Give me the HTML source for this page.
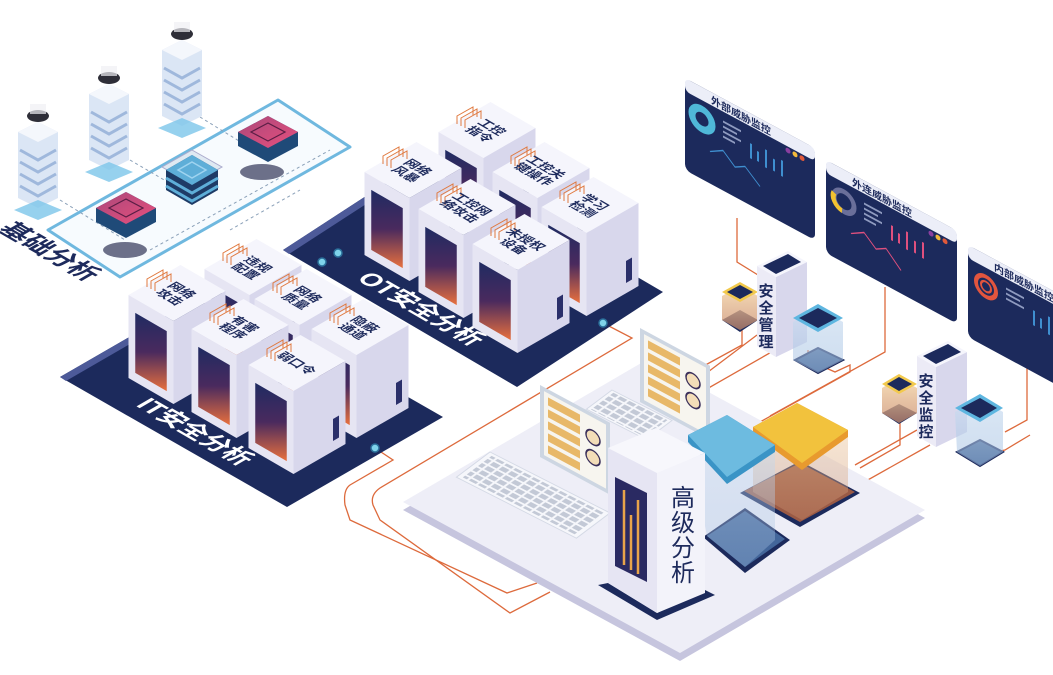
<!DOCTYPE html>
<html><head><meta charset="utf-8"><style>
html,body{margin:0;padding:0;background:#fff;}
svg{display:block;}
text{font-family:"Liberation Sans","Noto Sans CJK SC",sans-serif;}
</style></head><body>
<svg width="1053" height="675" viewBox="0 0 1053 675" xmlns="http://www.w3.org/2000/svg">
<defs>
 <linearGradient id="scr" x1="0" y1="0" x2="0" y2="1">
  <stop offset="0" stop-color="#1f2b62"/><stop offset="0.5" stop-color="#4a2a5e"/><stop offset="1" stop-color="#e8703e"/>
 </linearGradient>
 <linearGradient id="pink" x1="0" y1="0" x2="1" y2="1">
  <stop offset="0" stop-color="#a9477a"/><stop offset="1" stop-color="#e8507e"/>
 </linearGradient>
 <linearGradient id="glassB" x1="0" y1="0" x2="0" y2="1">
  <stop offset="0" stop-color="#cfe0f2" stop-opacity=".9"/><stop offset="1" stop-color="#9fbde0" stop-opacity=".6"/>
 </linearGradient>
 <linearGradient id="glassY" x1="0" y1="0" x2="0" y2="1">
  <stop offset="0" stop-color="#f7dcb0" stop-opacity=".9"/><stop offset="1" stop-color="#c98a6a" stop-opacity=".7"/>
 </linearGradient>
 <pattern id="keys" width="9" height="7" patternUnits="userSpaceOnUse">
  <rect x="1" y="1" width="7" height="5" fill="#c3c9d6"/>
 </pattern>
 <g id="cab">
  <polygon points="3.5,-28 48.5,-2 -3.5,28 -48.5,2" fill="#f5f5fc"/>
  <polygon points="-48.5,2 -3.5,28 -3.5,111 -48.5,85" fill="#e6e5f3"/>
  <polygon points="-3.5,28 48.5,-2 48.5,81 -3.5,111" fill="#d8d7ec"/>
  <polygon points="-41.75,19.9 -10.25,38.1 -10.25,98.1 -41.75,79.9" fill="url(#scr)"/>
  <polygon points="36,56 42,52.5 42,74.5 36,78" fill="#2a2f6a"/>
  <g stroke="#e0793f" stroke-width="1" fill="none">
   <path d="M-30,-6 l0,-8 l16,-9 l0,8 M-26,-4 l0,-8 l16,-9 l0,8 M-22,-2 l0,-8 l16,-9 l0,8"/>
  </g>
 </g>
 <g id="tower">
  <ellipse cx="0" cy="-4" rx="11" ry="6" fill="#2e2e38"/>
  <rect x="-8" y="-16" width="16" height="10" fill="#f0f0f4" opacity=".7"/>
  <polygon points="0,2 -20,12 -20,78 0,88 20,78 20,12" fill="#dbe6f5"/>
  <polygon points="0,2 20,12 0,22 -20,12" fill="#f4f7fc"/>
  <g stroke="#9fb8dc" stroke-width="3" fill="none">
   <path d="M-18,30 L0,40 L18,30 M-18,42 L0,52 L18,42 M-18,54 L0,64 L18,54 M-18,66 L0,76 L18,66"/>
  </g>
  <polygon points="0,80 -24,90 0,100 24,90" fill="#7cc6ea" opacity=".8"/>
 </g>
</defs>

<!-- foundation -->
<polygon points="48,230 120,277 350,147 278,100" fill="#f7fbfe" stroke="#6fb8df" stroke-width="3" stroke-linejoin="round"/>
<g stroke="#8aa0b8" stroke-width="1" stroke-dasharray="3,3" fill="none">
 <path d="M60,200 L125,240 M130,160 L190,195 M200,117 L270,160 M230,230 L300,190 M150,250 L330,150"/>
</g>
<ellipse cx="125" cy="250" rx="22" ry="8" fill="#6c7089"/>
<ellipse cx="262" cy="172" rx="22" ry="8" fill="#6c7089"/>
<use href="#tower" x="38" y="120"/>
<use href="#tower" x="109" y="82"/>
<use href="#tower" x="182" y="38"/>
<!-- center chip -->
<polygon points="192,150 222,167 192,184 162,167" fill="#dfe9f2" stroke="#aac" stroke-width="1"/>
<g>
 <polygon points="192,155 218,170 218,190 192,205 166,190 166,170" fill="#1e3b66"/>
 <polygon points="192,155 218,170 192,185 166,170" fill="#5eaed8"/>
 <polygon points="192,162 206,170 192,178 178,170" fill="none" stroke="#9fd4f0" stroke-width="1.5"/>
 <path d="M166,178 L192,193 L218,178 M166,186 L192,201 L218,186" stroke="#5eaed8" stroke-width="3" fill="none"/>
</g>
<!-- pink chips -->
<g>
 <polygon points="126,192 156,208 156,222 126,238 96,222 96,208" fill="#1f4a78"/>
 <polygon points="126,192 156,208 126,224 96,208" fill="url(#pink)"/>
 <polygon points="126,199 143,208 126,217 109,208" fill="none" stroke="#5a1e45" stroke-width="1.2"/>
</g>
<g>
 <polygon points="268,116 298,132 298,146 268,162 238,146 238,132" fill="#1f4a78"/>
 <polygon points="268,116 298,132 268,148 238,132" fill="url(#pink)"/>
 <polygon points="268,123 285,132 268,141 251,132" fill="none" stroke="#5a1e45" stroke-width="1.2"/>
</g>
<text transform="matrix(0.866,0.5,-0.866,0.5,42,256)" text-anchor="middle" font-size="26" font-weight="bold" fill="#1d2a5c">基础分析</text>

<!-- orange lines -->
<g stroke="#dd6a3c" stroke-width="1.3" fill="none">
 <path d="M375,448 L393,460 L350,485 Q343,490 345,505 L350,520 L507,593 L537,583"/>
 <path d="M603,323 L632,338 L380,488 Q370,495 373,505 L380,520 L510,613 L550,592"/>
 <path d="M737,218 L737,262 L758,275"/>
 <path d="M885,287 L885,352 L770,416"/>
 <path d="M1027,340 L1027,420 L1005,432"/>
 <path d="M742,330 L742,345 L700,368 M757,335 L700,378 M775,350 L705,390 M808,350 L808,360 L835,372 L850,365 L850,372 L760,422"/>
 <path d="M900,420 L900,445 L860,468 M917,430 L855,465 M930,445 L850,490 M975,445 L980,455 L1005,450 L1030,435"/>
</g>

<!-- IT platform -->
<polygon points="60,377 216,287 443,417 287,507" fill="#1c2a5c"/>
<polygon points="60,377 216,287 220,292 66,381" fill="#4d5a99"/>
<!-- OT platform -->
<polygon points="283,250 429,155 663,292 517,387" fill="#1c2a5c"/>
<polygon points="283,250 429,155 434,160 289,254" fill="#4d5a99"/>
<text transform="matrix(0.866,0.5,-0.866,0.5,188,436)" text-anchor="middle" font-size="25" font-weight="bold" fill="#ffffff">IT安全分析</text>
<text transform="matrix(0.866,0.5,-0.866,0.5,414,313)" text-anchor="middle" font-size="25" font-weight="bold" fill="#ffffff">OT安全分析</text>
<g fill="#7fd3ea" stroke="#2b6f9a" stroke-width="1.5">
 <circle cx="375" cy="448" r="4"/><circle cx="603" cy="323" r="4"/><circle cx="322" cy="262" r="4"/><circle cx="338" cy="253" r="4"/>
</g>

<!-- OT cabinets -->
<use href="#cab" x="487" y="130"/>
<use href="#cab" x="413" y="170"/>
<use href="#cab" x="541" y="170"/>
<use href="#cab" x="467" y="207"/>
<use href="#cab" x="590" y="205"/>
<use href="#cab" x="521" y="242"/>
<g font-size="13" font-weight="bold" fill="#1d2a5c" text-anchor="middle">
 <text transform="matrix(0.866,0.5,-0.866,0.5,487,130)"><tspan x="0" y="-1">工控</tspan><tspan x="0" y="13">指令</tspan></text>
 <text transform="matrix(0.866,0.5,-0.866,0.5,413,170)"><tspan x="0" y="-1">网络</tspan><tspan x="0" y="13">风暴</tspan></text>
 <text transform="matrix(0.866,0.5,-0.866,0.5,541,170)"><tspan x="0" y="-1">工控关</tspan><tspan x="0" y="13">键操作</tspan></text>
 <text transform="matrix(0.866,0.5,-0.866,0.5,467,207)"><tspan x="0" y="-1">工控网</tspan><tspan x="0" y="13">络攻击</tspan></text>
 <text transform="matrix(0.866,0.5,-0.866,0.5,590,205)"><tspan x="0" y="-1">学习</tspan><tspan x="0" y="13">检测</tspan></text>
 <text transform="matrix(0.866,0.5,-0.866,0.5,521,242)"><tspan x="0" y="-1">未授权</tspan><tspan x="0" y="13">设备</tspan></text>
</g>

<!-- IT cabinets -->
<use href="#cab" x="253" y="267"/>
<use href="#cab" x="177" y="293"/>
<use href="#cab" x="303" y="297"/>
<use href="#cab" x="240" y="327"/>
<use href="#cab" x="360" y="327"/>
<use href="#cab" x="297" y="363"/>
<g font-size="13" font-weight="bold" fill="#1d2a5c" text-anchor="middle">
 <text transform="matrix(0.866,0.5,-0.866,0.5,253,267)"><tspan x="0" y="-1">违规</tspan><tspan x="0" y="13">配置</tspan></text>
 <text transform="matrix(0.866,0.5,-0.866,0.5,177,293)"><tspan x="0" y="-1">网络</tspan><tspan x="0" y="13">攻击</tspan></text>
 <text transform="matrix(0.866,0.5,-0.866,0.5,303,297)"><tspan x="0" y="-1">网络</tspan><tspan x="0" y="13">质量</tspan></text>
 <text transform="matrix(0.866,0.5,-0.866,0.5,240,327)"><tspan x="0" y="-1">有害</tspan><tspan x="0" y="13">程序</tspan></text>
 <text transform="matrix(0.866,0.5,-0.866,0.5,360,327)"><tspan x="0" y="-1">隐蔽</tspan><tspan x="0" y="13">通道</tspan></text>
 <text transform="matrix(0.866,0.5,-0.866,0.5,297,363)"><tspan x="0" y="5">弱口令</tspan></text>
</g>

<!-- dashboards -->
<g transform="matrix(1,0.54,0,1,685,78)">
 <rect x="0" y="0" width="130" height="92" rx="6" fill="#1c2a5c"/>
 <rect x="0" y="0" width="130" height="13" rx="5" fill="#eceef8"/>
 <text x="26" y="11" font-size="10" font-weight="bold" fill="#1d2a5c">外部威胁监控</text>
 <circle cx="17" cy="32" r="10" fill="none" stroke="#4fb8d8" stroke-width="7"/>
 <circle cx="103" cy="17" r="2.5" fill="#8a3fa0"/><circle cx="110" cy="17" r="2.5" fill="#f2b93b"/><circle cx="117" cy="17" r="2.5" fill="#e0593a"/>
 <g fill="#3f8fd0"><rect x="65" y="30" width="2" height="15"/><rect x="72" y="34" width="2" height="10"/><rect x="80" y="28" width="2" height="18"/><rect x="88" y="33" width="2" height="12"/><rect x="96" y="30" width="2" height="16"/></g>
 <g fill="#8f9bc0"><rect x="38" y="22" width="18" height="2"/><rect x="38" y="27" width="14" height="2"/><rect x="38" y="32" width="18" height="2"/><rect x="38" y="37" width="12" height="2"/></g>
 <polyline points="25,60 38,52 50,62 60,56 75,68" fill="none" stroke="#3f8fd0" stroke-width="1.2"/>
</g>
<g transform="matrix(1,0.54,0,1,826,160)">
 <rect x="0" y="0" width="131" height="93" rx="6" fill="#1c2a5c"/>
 <rect x="0" y="0" width="131" height="13" rx="5" fill="#eceef8"/>
 <text x="26" y="11" font-size="10" font-weight="bold" fill="#1d2a5c">外连威胁监控</text>
 <circle cx="18" cy="32" r="10" fill="none" stroke="#6a6f9a" stroke-width="5"/>
 <path d="M8,28 A10,10 0 0 0 16,42" fill="none" stroke="#f2c230" stroke-width="5"/>
 <circle cx="105" cy="17" r="2.5" fill="#8a3fa0"/><circle cx="112" cy="17" r="2.5" fill="#f2b93b"/><circle cx="119" cy="17" r="2.5" fill="#e0593a"/>
 <g fill="#e0507e"><rect x="65" y="30" width="2" height="15"/><rect x="72" y="34" width="2" height="10"/><rect x="80" y="28" width="2" height="18"/><rect x="88" y="33" width="2" height="12"/><rect x="96" y="30" width="2" height="16"/></g>
 <g fill="#8f9bc0"><rect x="38" y="22" width="18" height="2"/><rect x="38" y="27" width="14" height="2"/><rect x="38" y="32" width="18" height="2"/><rect x="38" y="37" width="12" height="2"/></g>
 <polyline points="25,60 38,52 50,62 60,56 75,70" fill="none" stroke="#e0507e" stroke-width="1.2"/>
</g>
<g transform="matrix(1,0.54,0,1,968,245)">
 <rect x="0" y="0" width="131" height="92" rx="6" fill="#1c2a5c"/>
 <rect x="0" y="0" width="131" height="13" rx="5" fill="#eceef8"/>
 <text x="26" y="11" font-size="10" font-weight="bold" fill="#1d2a5c">内部威胁监控</text>
 <circle cx="18" cy="32" r="10" fill="none" stroke="#e2553e" stroke-width="4"/>
 <circle cx="18" cy="32" r="5" fill="none" stroke="#e2553e" stroke-width="2"/>
 <g fill="#3f8fd0"><rect x="65" y="30" width="2" height="15"/><rect x="72" y="34" width="2" height="10"/><rect x="80" y="28" width="2" height="18"/></g>
 <g fill="#8f9bc0"><rect x="38" y="22" width="18" height="2"/><rect x="38" y="27" width="14" height="2"/><rect x="38" y="32" width="18" height="2"/></g>
</g>

<!-- small glass cubes + security cabinets -->
<g>
 <polygon points="722,320 740,310 758,320 740,332" fill="#1c2a5c"/>
 <polygon points="722,296 740,286 758,296 758,320 740,330 722,320" fill="url(#glassY)"/>
 <polygon points="722,292 740,282 758,292 740,302" fill="#f2c94c"/>
 <polygon points="727,292 740,285 753,292 740,299" fill="#1c2a5c"/>
</g>
<g>
 <polygon points="757,266 776,277 776,357 757,346" fill="#ecebf6"/>
 <polygon points="776,277 807,262 807,342 776,357" fill="#d8d7ec"/>
 <polygon points="757,266 788,251 807,262 776,277" fill="#f5f5fc"/>
 <polygon points="763,266 788,254 801,262 776,274" fill="#1c2a5c"/>
 <text x="766" y="300" font-size="15" font-weight="bold" fill="#1d2a5c" text-anchor="middle"><tspan x="766" y="296">安</tspan><tspan x="766" y="313">全</tspan><tspan x="766" y="330">管</tspan><tspan x="766" y="347">理</tspan></text>
</g>
<g>
 <polygon points="795,360 818,348 843,360 818,373" fill="#3f5f8f" stroke="#1c2a5c" stroke-width="2"/>
 <polygon points="793,322 818,308 843,322 843,360 818,373 793,360" fill="url(#glassB)" opacity=".8"/>
 <polygon points="793,318 818,304 843,318 818,332" fill="#5eb6e0"/>
 <polygon points="799,318 818,308 837,318 818,328" fill="#1c2a5c"/>
</g>
<g>
 <polygon points="882,413 899,404 917,413 899,424" fill="#1c2a5c"/>
 <polygon points="882,388 899,378 917,388 917,413 899,423 882,413" fill="url(#glassY)"/>
 <polygon points="882,384 899,374 917,384 899,394" fill="#f2c94c"/>
 <polygon points="887,384 899,377 912,384 899,391" fill="#1c2a5c"/>
</g>
<g>
 <polygon points="917,356 936,367 936,447 917,436" fill="#ecebf6"/>
 <polygon points="936,367 967,352 967,432 936,447" fill="#d8d7ec"/>
 <polygon points="917,356 948,341 967,352 936,367" fill="#f5f5fc"/>
 <polygon points="923,356 948,344 961,352 936,364" fill="#1c2a5c"/>
 <text font-size="15" font-weight="bold" fill="#1d2a5c" text-anchor="middle"><tspan x="926" y="386">安</tspan><tspan x="926" y="403">全</tspan><tspan x="926" y="420">监</tspan><tspan x="926" y="437">控</tspan></text>
</g>
<g>
 <polygon points="957,452 980,440 1003,452 980,466" fill="#3f5f8f" stroke="#1c2a5c" stroke-width="2"/>
 <polygon points="955,412 980,398 1003,412 1003,452 980,466 957,452" fill="url(#glassB)" opacity=".8"/>
 <polygon points="955,408 980,394 1003,408 980,422" fill="#5eb6e0"/>
 <polygon points="961,408 980,398 997,408 980,418" fill="#1c2a5c"/>
</g>

<!-- big platform -->
<polygon points="403,510 648,367 925,518 680,661" fill="#c6c5de"/>
<polygon points="403,502 648,359 925,510 680,653" fill="#eeeef7"/>
<!-- keyboard back -->
<g transform="matrix(1,0.508,-0.8,0.6,612,390)">
 <rect x="0" y="0" width="60" height="32" fill="#f6f7fb" stroke="#d4d9e5"/>
 <rect x="3" y="2" width="54" height="28" fill="url(#keys)"/>
</g>
<!-- monitor 2 -->
<g transform="matrix(1,0.54,0,1,640,328)">
 <rect x="0" y="0" width="70" height="74" fill="#cdd6e2"/>
 <rect x="4" y="4" width="62" height="66" fill="#f7f5ef"/>
 <g fill="#e8b868"><rect x="8" y="8" width="32" height="8"/><rect x="8" y="20" width="32" height="8"/><rect x="8" y="32" width="32" height="8"/><rect x="8" y="44" width="32" height="8"/><rect x="8" y="56" width="32" height="8"/></g>
 <circle cx="53" cy="24" r="7" fill="#f3ddb8" stroke="#3a2f5a" stroke-width="1.5"/>
 <circle cx="53" cy="44" r="7" fill="#f3ddb8" stroke="#3a2f5a" stroke-width="1.5"/>
</g>
<!-- keyboard front -->
<g transform="matrix(1,0.508,-0.8,0.6,490,452)">
 <rect x="0" y="0" width="120" height="42" fill="#f6f7fb" stroke="#d4d9e5"/>
 <rect x="4" y="3" width="112" height="36" fill="url(#keys)"/>
</g>
<!-- monitor 1 -->
<g transform="matrix(1,0.54,0,1,540,385)">
 <rect x="0" y="0" width="70" height="72" fill="#cdd6e2"/>
 <rect x="4" y="4" width="62" height="64" fill="#f7f5ef"/>
 <g fill="#e8b868"><rect x="8" y="8" width="32" height="8"/><rect x="8" y="20" width="32" height="8"/><rect x="8" y="32" width="32" height="8"/><rect x="8" y="44" width="32" height="8"/><rect x="8" y="56" width="32" height="8"/></g>
 <circle cx="53" cy="24" r="7" fill="#f3ddb8" stroke="#3a2f5a" stroke-width="1.5"/>
 <circle cx="53" cy="44" r="7" fill="#f3ddb8" stroke="#3a2f5a" stroke-width="1.5"/>
</g>
<!-- yellow tile stack -->
<polygon points="740,493 800,461 860,493 800,527" fill="#1c2a5c"/>
<polygon points="744,491 800,463 855,492 800,522" fill="#9a5a45"/>
<polygon points="753,433 797,409 848,436 848,492 802,520 753,492" fill="url(#glassY)" opacity=".55"/>
<polygon points="753,427 797,403 848,430 848,437 802,470 753,434" fill="#e89a2e"/>
<polygon points="753,427 797,403 848,430 802,463" fill="#f2c23d"/>
<!-- blue tile stack -->
<polygon points="703,537 745,508 790,540 745,573" fill="#1c2a5c"/>
<polygon points="707,536 745,511 785,539 745,567" fill="#43669a"/>
<polygon points="688,441 727,421 775,451 775,540 745,567 707,536" fill="url(#glassB)" opacity=".55"/>
<polygon points="688,435 727,415 775,445 775,452 727,484 688,442" fill="#3a94c6"/>
<polygon points="688,435 727,415 775,445 727,477" fill="#6dbbe0"/>
<!-- 高级分析 cabinet -->
<polygon points="598,585 657,620 715,595 705,590 657,613 608,583" fill="#1c2a5c"/>
<polygon points="608,448 657,473 657,613 608,583" fill="#e6e5f3"/>
<polygon points="657,473 705,453 705,593 657,613" fill="#f3f3fa"/>
<polygon points="608,448 656,428 705,453 657,473" fill="#f7f7fc"/>
<polygon points="615,477 647,493 647,582 615,566" fill="#2a2a62"/>
<g stroke="#e8a44a" stroke-width="2.5"><line x1="624" y1="490" x2="624" y2="565"/><line x1="631" y1="515" x2="631" y2="570"/><line x1="638" y1="500" x2="638" y2="574"/></g>
<text font-size="24" fill="#1d2a5c" text-anchor="middle"><tspan x="683" y="506">高</tspan><tspan x="683" y="531">级</tspan><tspan x="683" y="556">分</tspan><tspan x="683" y="581">析</tspan></text>
</svg>
</body></html>
